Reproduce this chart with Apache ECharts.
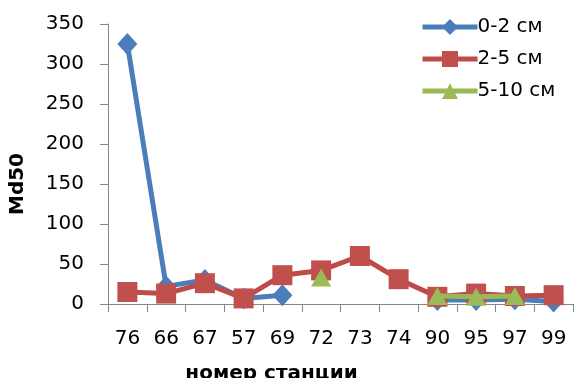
<!DOCTYPE html>
<html>
<head>
<meta charset="utf-8">
<script src="https://cdn.jsdelivr.net/npm/echarts@6/dist/echarts.min.js"></script>
<style>
html,body{margin:0;padding:0;background:#fff;}
#chart{width:574px;height:378px;}
</style>
</head>
<body>
<div id="chart"></div>
<script>
const categories = ['76','66','67','57','69','72','73','74','90','95','97','99'];
const s0_2 = [325, 22, 30, 7, 11, null, null, null, 5, 5, 6, 3];
const s2_5 = [15, 13, 26, 7, 36, 42, 60, 31, 9, 13, 10, 11];
const s5_10 = [null, null, null, null, null, 33, null, null, 10, 9, 10, null];
const seriesNames = ['0-2 см', '2-5 см', '5-10 см'];
const yTicks = {min: 0, max: 350, interval: 50};

const FONT = 'DejaVu Sans';
const chart = echarts.init(document.getElementById('chart'), null, {renderer: 'canvas'});
const axisColor = '#868686';
chart.setOption({
  animation: false,
  backgroundColor: '#ffffff',
  textStyle: {fontFamily: FONT},
  grid: {left: 108, right: 1, top: 24, bottom: 74, containLabel: false, outerBoundsMode: 'none'},
  legend: {
    orient: 'vertical',
    left: 415,
    top: 12,
    itemWidth: 55,
    itemHeight: 20,
    itemGap: 12,
    lineStyle: {width: 5},
    textStyle: {fontFamily: FONT, fontSize: 20, color: '#000', padding: [0, 0, 0, -5]},
    data: seriesNames
  },
  xAxis: {
    type: 'category',
    data: categories,
    boundaryGap: true,
    name: 'номер станции',
    nameLocation: 'middle',
    nameGap: 60,
    nameTextStyle: {fontFamily: FONT, fontSize: 20, fontWeight: 'bold', color: '#000', padding: [0, 138, 0, 0]},
    axisLine: {lineStyle: {color: axisColor, width: 1}},
    axisTick: {show: true, length: 8, lineStyle: {color: axisColor}},
    axisLabel: {fontFamily: FONT, fontSize: 20, color: '#000', margin: 25}
  },
  yAxis: {
    type: 'value',
    min: yTicks.min, max: yTicks.max, interval: yTicks.interval,
    name: 'Md50',
    nameLocation: 'middle',
    nameGap: 80,
    nameRotate: 90,
    nameTextStyle: {fontFamily: FONT, fontSize: 20, fontWeight: 'bold', color: '#000', padding: [0, 40, 0, 0]},
    splitLine: {show: false},
    axisLine: {show: true, lineStyle: {color: axisColor, width: 1}},
    axisTick: {show: true, length: 8, lineStyle: {color: axisColor}},
    axisLabel: {fontFamily: FONT, fontSize: 20, color: '#000', margin: 24}
  },
  series: [
    {
      name: seriesNames[0], type: 'line', data: s0_2,
      symbol: 'diamond', symbolSize: [20, 22],
      lineStyle: {color: '#4A7EBB', width: 5},
      itemStyle: {color: '#4A7EBB'},
      connectNulls: false, z: 2
    },
    {
      name: seriesNames[1], type: 'line', data: s2_5,
      symbol: 'rect', symbolSize: 20,
      lineStyle: {color: '#BE4B48', width: 5},
      itemStyle: {color: '#C0504D'},
      connectNulls: false, z: 3
    },
    {
      name: seriesNames[2], type: 'line', data: s5_10,
      symbol: 'triangle', symbolSize: [20, 18],
      lineStyle: {color: '#98B954', width: 5},
      itemStyle: {color: '#9BBB59'},
      connectNulls: false, z: 4
    }
  ]
});
</script>
</body>
</html>
